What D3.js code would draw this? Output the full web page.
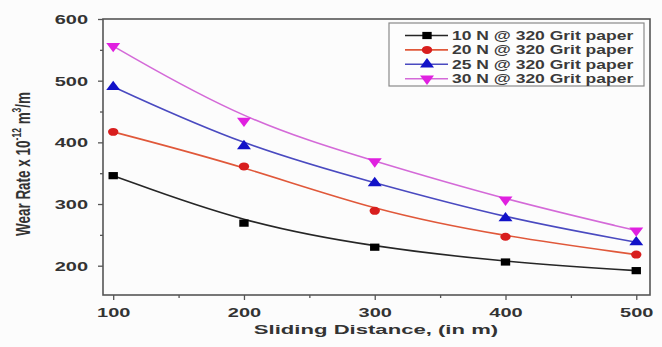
<!DOCTYPE html>
<html>
<head>
<meta charset="utf-8">
<script src="https://cdn.jsdelivr.net/npm/d3@7"></script>
<style>
  html, body { margin: 0; padding: 0; background: #fcfcfc; }
  svg { display: block; font-family: "Liberation Sans", Arial, sans-serif; }
</style>
</head>
<body>
<svg id="chart" width="662" height="347"></svg>
<script>
// Sliding distance (m)
const distances = [100, 200, 300, 400, 500];
// Wear rate x 10^-12 m^3/m for each applied load
const wear10N = [346, 269, 230, 206, 192];
const wear20N = [417, 361, 289, 247, 218];
const wear25N = [490, 394, 334, 277, 238];
const wear30N = [556, 435, 369, 307, 257];
const seriesNames = [
  "10 N @ 320 Grit paper",
  "20 N @ 320 Grit paper",
  "25 N @ 320 Grit paper",
  "30 N @ 320 Grit paper"
];
const xTicks = [100, 200, 300, 400, 500];
const yTicks = [200, 300, 400, 500, 600];

const series = [
  { name: seriesNames[0], values: wear10N, line: "#262626", fill: "#000000", symbol: d3.symbolSquare, size: 52, rot: 0 },
  { name: seriesNames[1], values: wear20N, line: "#e0583a", fill: "#d81e1e", symbol: d3.symbolCircle, size: 50, rot: 0 },
  { name: seriesNames[2], values: wear25N, line: "#4a4ac0", fill: "#1212c8", symbol: d3.symbolTriangle, size: 50, rot: 0 },
  { name: seriesNames[3], values: wear30N, line: "#d46ad8", fill: "#e020e0", symbol: d3.symbolTriangle, size: 50, rot: 180 }
];

const svg = d3.select("#chart");
const plotLeft = 103, plotRight = 650, plotTop = 19, plotBottom = 295;
const sx = 1.6;   // horizontal text stretch
const msx = 1.3;  // horizontal marker stretch

const x = d3.scaleLinear().domain([92.2, 510.5]).range([plotLeft, plotRight]);
const y = d3.scaleLinear().domain([152.5, 600]).range([plotBottom, plotTop]);

// Axes
const xAxis = d3.axisBottom(x).tickValues(xTicks).tickSize(5).tickSizeOuter(0).tickFormat(d3.format("d"));
const yAxis = d3.axisLeft(y).tickValues(yTicks).tickSize(5).tickSizeOuter(0).tickFormat(d3.format("d"));
const xMinor = d3.axisBottom(x).tickValues([150, 250, 350, 450]).tickSize(3).tickSizeOuter(0).tickFormat("");
const yMinor = d3.axisLeft(y).tickValues([250, 350, 450, 550]).tickSize(3).tickSizeOuter(0).tickFormat("");

function styleAxis(g) {
  g.select(".domain").remove();
  g.selectAll(".tick line").attr("stroke", "#555").attr("stroke-width", 1.3);
}

svg.append("g").attr("transform", `translate(0,${plotBottom})`).call(xMinor).call(styleAxis);
svg.append("g").attr("transform", `translate(${plotLeft},0)`).call(yMinor).call(styleAxis);

const gx = svg.append("g").attr("transform", `translate(0,${plotBottom})`).call(xAxis).call(styleAxis);
gx.selectAll(".tick text")
  .attr("y", 0).attr("dy", 0)
  .attr("transform", `translate(0,22) scale(${sx},1)`)
  .attr("font-size", 12.5).attr("font-weight", "bold").attr("fill", "#333");

const gy = svg.append("g").attr("transform", `translate(${plotLeft},0)`).call(yAxis).call(styleAxis);
gy.selectAll(".tick text")
  .attr("x", 0).attr("dy", "0.36em")
  .attr("transform", `translate(-15,0) scale(${sx},1)`)
  .attr("font-size", 12.5).attr("font-weight", "bold").attr("fill", "#333");

// Frame
svg.append("rect")
  .attr("x", plotLeft).attr("y", plotTop)
  .attr("width", plotRight - plotLeft).attr("height", plotBottom - plotTop)
  .attr("fill", "none").attr("stroke", "#555").attr("stroke-width", 1.6);

// Curves and markers
const line = d3.line()
  .x((d, i) => x(distances[i]))
  .y(d => y(d))
  .curve(d3.curveBasis);

series.forEach(s => {
  svg.append("path")
    .attr("d", line(s.values))
    .attr("fill", "none")
    .attr("stroke", s.line)
    .attr("stroke-width", 1.6);
});

series.forEach(s => {
  const sym = d3.symbol().type(s.symbol).size(s.size);
  svg.append("g").selectAll("path")
    .data(s.values)
    .join("path")
    .attr("d", sym)
    .attr("transform", (d, i) => `translate(${x(distances[i])},${y(d)}) scale(${msx},1) rotate(${s.rot})`)
    .attr("fill", s.fill);
});

// Legend
const lg = svg.append("g");
lg.append("rect")
  .attr("x", 389).attr("y", 23).attr("width", 255).attr("height", 63)
  .attr("fill", "#fdfdfd").attr("stroke", "#8a8a8a").attr("stroke-width", 1.2);
series.forEach((s, i) => {
  const ly = 35.5 + i * 14.4;
  lg.append("line")
    .attr("x1", 405).attr("x2", 448).attr("y1", ly).attr("y2", ly)
    .attr("stroke", s.line).attr("stroke-width", 1.6);
  lg.append("path")
    .attr("d", d3.symbol().type(s.symbol).size(s.size)())
    .attr("transform", `translate(427,${ly}) scale(${msx},1) rotate(${s.rot})`)
    .attr("fill", s.fill);
  lg.append("text")
    .attr("transform", `translate(452,${ly}) scale(1.4,1)`)
    .attr("dy", "0.36em")
    .attr("font-size", 12.5).attr("font-weight", "bold").attr("fill", "#3a3a3a")
    .text(s.name);
});

// Axis titles
svg.append("text")
  .attr("transform", `translate(376,334) scale(1.7,1)`)
  .attr("text-anchor", "middle")
  .attr("font-size", 13).attr("font-weight", "bold").attr("fill", "#333")
  .text("Sliding Distance, (in m)");

const yt = svg.append("text")
  .attr("transform", "translate(30,164) rotate(-90) scale(1,1.45)")
  .attr("text-anchor", "middle")
  .attr("font-size", 13.5).attr("font-weight", "bold").attr("fill", "#333");
yt.append("tspan").text("Wear Rate x 10");
yt.append("tspan").attr("font-size", 8.5).attr("dy", -6).text("-12");
yt.append("tspan").attr("dy", 6).text(" m");
yt.append("tspan").attr("font-size", 8.5).attr("dy", -6).text("3");
yt.append("tspan").attr("dy", 6).text("/m");
</script>
</body>
</html>
